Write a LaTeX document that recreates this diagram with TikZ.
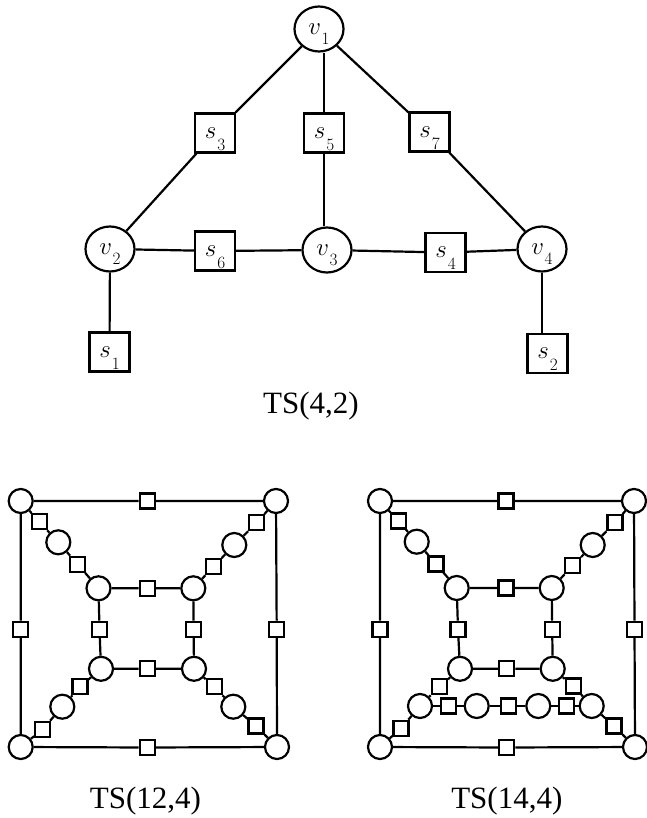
\documentclass[tikz,border=0pt]{standalone}
\usepackage[no-math]{fontspec}
\newfontfamily\capfont{Liberation Serif}
\usetikzlibrary{shapes.geometric}
% vertex / server labels: italic letter with a low-set index
\newcommand\vlab[2]{\fontsize{28}{30}\selectfont$#1$\kern0.5pt\raisebox{-10pt}[0pt][0pt]{\fontsize{17}{19}\selectfont$#2$}}
\newcommand\slab[2]{\fontsize{26}{30}\selectfont$#1$\kern1pt\raisebox{-12pt}[0pt][0pt]{\fontsize{17}{19}\selectfont$#2$}}
\tikzset{
  edge/.style={line width=2.2pt},
  bigv/.style={draw, line width=2.2pt, fill=white, ellipse, minimum width=49pt, minimum height=45pt, inner sep=0pt},
  bigs/.style={draw, line width=2.2pt, fill=white, rectangle, minimum width=40pt, minimum height=39pt, inner sep=0pt},
  smv/.style={draw, line width=2.2pt, fill=white, circle, minimum size=24pt, inner sep=0pt},
  sms/.style={draw, line width=2.2pt, fill=white, rectangle, minimum size=15pt, inner sep=0pt},
  captext/.style={anchor=base, inner sep=0pt, font=\capfont\fontsize{31}{36}\selectfont}
}
\begin{document}
\begin{tikzpicture}[x=1pt, y=-1pt]
\useasboundingbox (0,0) rectangle (646,818);

% ---------- TS(4,2) ----------
\node[bigv] (v1) at (319,29) {\vlab{v}{1}};
\node[bigv] (v2) at (110,249) {\vlab{v}{2}};
\node[bigv] (v3) at (327,250) {\vlab{v}{3}};
\node[bigv] (v4) at (542,249) {\vlab{v}{4}};
\node[bigs] (s3) at (215,133) {\slab{s}{3}};
\node[bigs] (s5) at (324,133) {\slab{s}{5}};
\node[bigs] (s7) at (429.5,132) {\slab{s}{7}};
\node[bigs] (s6) at (215,251) {\slab{s}{6}};
\node[bigs] (s4) at (445.5,252.5) {\slab{s}{4}};
\node[bigs] (s1) at (109.5,352) {\slab{s}{1}};
\node[bigs] (s2) at (547.5,353.5) {\slab{s}{2}};

\draw[edge] (v1) -- (s3) -- (v2);
\draw[edge] (v1) -- (s7) -- (v4);
\draw[edge] (s5.north) -- (s5.north |- v1.south);
\draw[edge] (s5.south) -- (s5.south |- v3.north);
\draw[edge] (v2) -- (s6) -- (v3) -- (s4) -- (v4);
\draw[edge] (v2) -- (s1);
\draw[edge] (v4.south) -- (v4.south |- s2.north);

\node[captext] (c1) at (311,413) {TS(4,2)};

% ---------- TS(12,4) ----------
\node[smv] (LTL) at (20.7,501) {};
\node[smv] (LTR) at (276,501) {};
\node[smv] (LBL) at (20.7,747) {};
\node[smv] (LBR) at (277,747) {};
\node[sms] (Lt) at (147.3,501) {};
\node[sms] (Lb) at (147.3,747.5) {};
\node[sms] (Ll) at (20.7,629.3) {};
\node[sms] (Lr) at (276.7,629.3) {};

\node[smv] (LiTL) at (98.5,588.3) {};
\node[smv] (LiTR) at (193.3,588.3) {};
\node[smv] (LiBL) at (101,668.8) {};
\node[smv] (LiBR) at (194,668.8) {};
\node[sms] (Lit) at (147.3,588.3) {};
\node[sms] (Lib) at (147.3,668.8) {};
\node[sms] (Lil) at (99.5,629.3) {};
\node[sms] (Lir) at (193.6,629.3) {};

\node[sms] (La1) at (39.3,521.7) {};
\node[smv] (La2) at (58.3,542.3) {};
\node[sms] (La3) at (77.7,564.3) {};
\node[sms] (Lb1) at (256.7,522.7) {};
\node[smv] (Lb2) at (234.3,545) {};
\node[sms] (Lb3) at (213.3,566.7) {};
\node[sms] (Lc1) at (80,686.7) {};
\node[smv] (Lc2) at (62.3,706.7) {};
\node[sms] (Lc3) at (42.7,729.3) {};
\node[sms] (Ld1) at (214.3,686.7) {};
\node[smv] (Ld2) at (233.3,706.7) {};
\node[sms] (Ld3) at (256,726) {};

\draw[edge] (LTL) -- (Lt) -- (LTR) -- (Lr) -- (LBR) -- (Lb) -- (LBL) -- (Ll) -- (LTL);
\draw[edge] (LiTL) -- (Lit) -- (LiTR) -- (Lir) -- (LiBR) -- (Lib) -- (LiBL) -- (Lil) -- (LiTL);
\draw[edge] (LTL) -- (La1) -- (La2) -- (La3) -- (LiTL);
\draw[edge] (LTR) -- (Lb1) -- (Lb2) -- (Lb3) -- (LiTR);
\draw[edge] (LiBL) -- (Lc1) -- (Lc2) -- (Lc3) -- (LBL);
\draw[edge] (LiBR) -- (Ld1) -- (Ld2) -- (Ld3) -- (LBR);

\node[captext] (c2) at (145.5,808) {TS(12,4)};

% ---------- TS(14,4) ----------
\node[smv] (RTL) at (380,501) {};
\node[smv] (RTR) at (634,501) {};
\node[smv] (RBL) at (380,747) {};
\node[smv] (RBR) at (635,747) {};
\node[sms] (Rt) at (506,501) {};
\node[sms] (Rb) at (506.7,747.5) {};
\node[sms] (Rl) at (380,629.3) {};
\node[sms] (Rr) at (634.5,629.3) {};

\node[smv] (RiTL) at (456.7,588) {};
\node[smv] (RiTR) at (551.7,588) {};
\node[smv] (RiBL) at (460,668.8) {};
\node[smv] (RiBR) at (552.7,668.8) {};
\node[sms] (Rit) at (506,588) {};
\node[sms] (Rib) at (506.7,668.8) {};
\node[sms] (Ril) at (458,629.3) {};
\node[sms] (Rir) at (552.2,629.3) {};

\node[sms] (Ra1) at (398.3,521) {};
\node[smv] (Ra2) at (416.7,541.7) {};
\node[sms] (Ra3) at (436,564) {};
\node[sms] (Rb1) at (615,522.7) {};
\node[smv] (Rb2) at (592.7,545) {};
\node[sms] (Rb3) at (572.7,565.7) {};
\node[sms] (Rc1) at (439.3,686.7) {};
\node[smv] (Rc2) at (420,706) {};
\node[sms] (Rc3) at (401,728.3) {};
\node[sms] (Rd1) at (573.3,686) {};
\node[smv] (Rd2) at (591.7,706) {};
\node[sms] (Rd3) at (614,726) {};

\node[sms] (Rm1) at (448.3,706) {};
\node[smv] (Rm2) at (476.7,706) {};
\node[sms] (Rm3) at (508.3,706) {};
\node[smv] (Rm4) at (538.3,706) {};
\node[sms] (Rm5) at (566.7,706) {};

\draw[edge] (RTL) -- (Rt) -- (RTR) -- (Rr) -- (RBR) -- (Rb) -- (RBL) -- (Rl) -- (RTL);
\draw[edge] (RiTL) -- (Rit) -- (RiTR) -- (Rir) -- (RiBR) -- (Rib) -- (RiBL) -- (Ril) -- (RiTL);
\draw[edge] (RTL) -- (Ra1) -- (Ra2) -- (Ra3) -- (RiTL);
\draw[edge] (RTR) -- (Rb1) -- (Rb2) -- (Rb3) -- (RiTR);
\draw[edge] (RiBL) -- (Rc1) -- (Rc2) -- (Rc3) -- (RBL);
\draw[edge] (RiBR) -- (Rd1) -- (Rd2) -- (Rd3) -- (RBR);
\draw[edge] (Rc2) -- (Rm1) -- (Rm2) -- (Rm3) -- (Rm4) -- (Rm5) -- (Rd2);

\node[captext] (c3) at (506.8,808) {TS(14,4)};
\end{tikzpicture}
\end{document}
